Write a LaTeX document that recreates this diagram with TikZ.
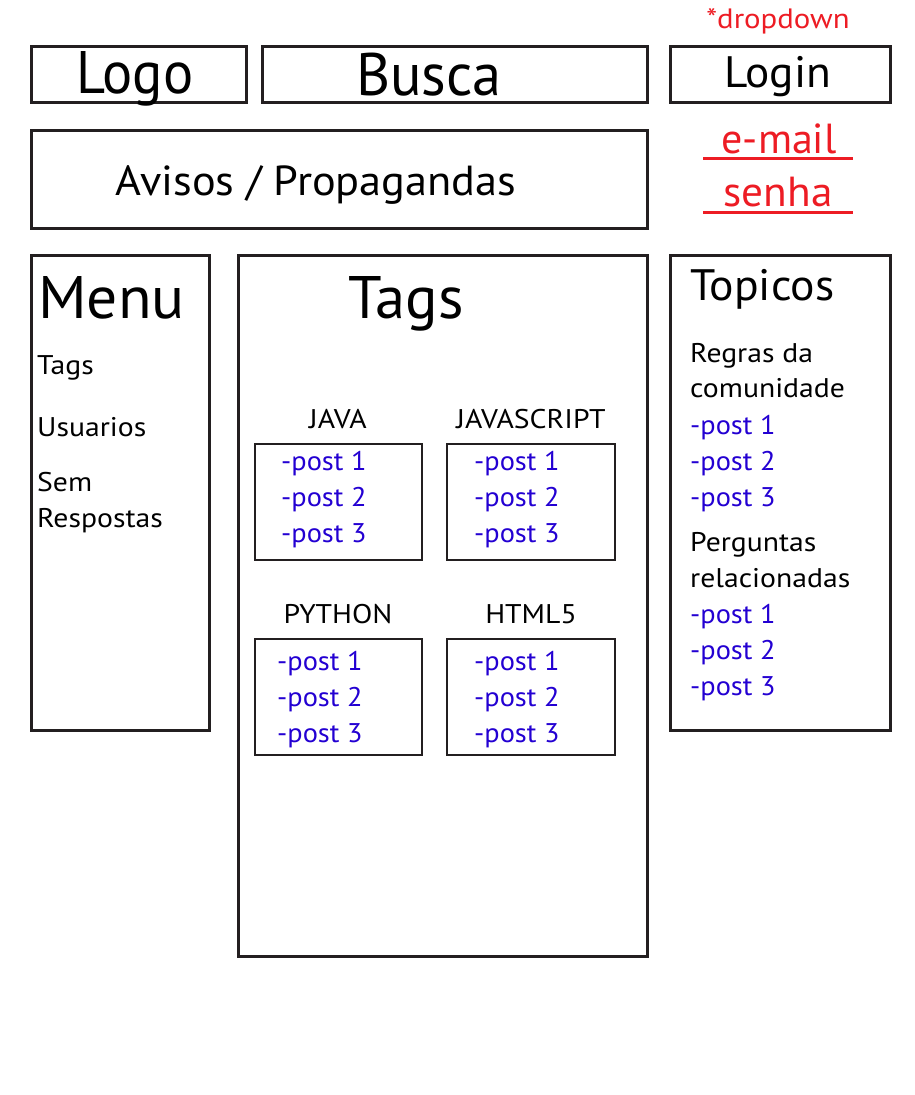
\documentclass[tikz,border=0pt]{standalone}
\usepackage{fontspec}
\setmainfont{PT Sans}
\definecolor{linec}{HTML}{231F20}
\definecolor{postblue}{RGB}{35,0,210}
\definecolor{notered}{RGB}{237,28,36}
\tikzset{
  frame/.style={draw=linec, line width=3pt, inner sep=0pt},
  subframe/.style={draw=linec, line width=2pt, inner sep=0pt},
  title/.style={inner sep=0pt, text=black},
  txt/.style={inner sep=0pt, text=black, font=\fontsize{27}{27}\selectfont, xscale=1.1},
  post/.style={inner sep=0pt, text=postblue, anchor=base west, font=\fontsize{27}{27}\selectfont, xscale=1.05},
  note/.style={inner sep=0pt, text=notered},
}
\begin{document}
\begin{tikzpicture}[x=1pt,y=-1pt]
\useasboundingbox (0,0) rectangle (915,1095);

% header row
\node[frame, minimum width=215pt, minimum height=56pt] (logo) at (138.5,74) {};
\node[frame, minimum width=385pt, minimum height=56pt] (busca) at (454.5,74) {};
\node[frame, minimum width=220pt, minimum height=56pt] (login) at (780,74) {};
\node[frame, minimum width=616pt, minimum height=98pt] (avisos) at (339,179) {};

% columns
\node[frame, minimum width=178pt, minimum height=475pt] (menu) at (120,492.5) {};
\node[frame, minimum width=409pt, minimum height=701pt] (tags) at (442.5,605.5) {};
\node[frame, minimum width=220pt, minimum height=475pt] (topicos) at (780,492.5) {};

% tag boxes
\node[subframe, minimum width=167pt, minimum height=116pt] (java) at (338.5,502) {};
\node[subframe, minimum width=168pt, minimum height=116pt] (js) at (531,502) {};
\node[subframe, minimum width=167pt, minimum height=116pt] (python) at (338.5,697) {};
\node[subframe, minimum width=168pt, minimum height=116pt] (html) at (531,697) {};

% header texts
\node[note, anchor=base, font=\fontsize{28}{28}\selectfont, xscale=1.1] (dropdown) at (778,28) {*dropdown};
\node[title, anchor=base, font=\fontsize{60}{60}\selectfont, xscale=0.94] (logot) at (135,93) {Logo};
\node[title, anchor=base, font=\fontsize{60}{60}\selectfont, xscale=0.975] (buscat) at (429,95) {Busca};
\node[title, anchor=base, font=\fontsize{44}{44}\selectfont, xscale=1.03] (logint) at (778,87) {Login};
\node[note, anchor=base, font=\fontsize{42}{42}\selectfont] (email) at (779,153) {e-mail};
\node[note, anchor=base, font=\fontsize{42}{42}\selectfont, xscale=1.03] (senha) at (778,206) {senha};
\coordinate (u1a) at (703,158); \coordinate (u1b) at (853,158);
\coordinate (u2a) at (703,212); \coordinate (u2b) at (853,212);
\draw[notered, line width=3pt] (u1a) -- (u1b);
\draw[notered, line width=3pt] (u2a) -- (u2b);
\node[title, anchor=base, font=\fontsize{42}{42}\selectfont, xscale=1.055] (avisost) at (316,195) {Avisos / Propagandas};

% menu column
\node[title, anchor=base west, font=\fontsize{60}{60}\selectfont, xscale=1.025] (menut) at (38,318) {Menu};
\node[txt, anchor=base west] (m1) at (37,374) {Tags};
\node[txt, anchor=base west] (m2) at (37,436) {Usuarios};
\node[txt, anchor=base west] (m3) at (37,491) {Sem};
\node[txt, anchor=base west] (m4) at (37,527) {Respostas};

% tags column
\node[title, anchor=base, font=\fontsize{60}{60}\selectfont, xscale=1.01] (tagst) at (406,318) {Tags};
\node[txt, anchor=base] (javal) at (338,428) {JAVA};
\node[txt, anchor=base] (jsl) at (531,428) {JAVASCRIPT};
\node[txt, anchor=base] (pyl) at (338,623) {PYTHON};
\node[txt, anchor=base] (htmll) at (531,623) {HTML5};
\foreach \n/\x/\y in {ja/281/470, jb/474/470, pa/277/670, pb/474/670}{
  \node[post] (\n1) at (\x,\y) {-post 1};
  \node[post] (\n2) at (\x,\y+36) {-post 2};
  \node[post] (\n3) at (\x,\y+72) {-post 3};
}

% topics column
\node[title, anchor=base west, font=\fontsize{44}{44}\selectfont, xscale=1.037] (topicost) at (690,300) {Topicos};
\node[txt, anchor=base west] (r1) at (690,362) {Regras da};
\node[txt, anchor=base west] (r2) at (690,397) {comunidade};
\node[post] (rp1) at (690,434) {-post 1};
\node[post] (rp2) at (690,470) {-post 2};
\node[post] (rp3) at (690,506) {-post 3};
\node[txt, anchor=base west] (q1) at (690,551) {Perguntas};
\node[txt, anchor=base west] (q2) at (690,587) {relacionadas};
\node[post] (qp1) at (690,623) {-post 1};
\node[post] (qp2) at (690,659) {-post 2};
\node[post] (qp3) at (690,695) {-post 3};
\end{tikzpicture}
\end{document}
